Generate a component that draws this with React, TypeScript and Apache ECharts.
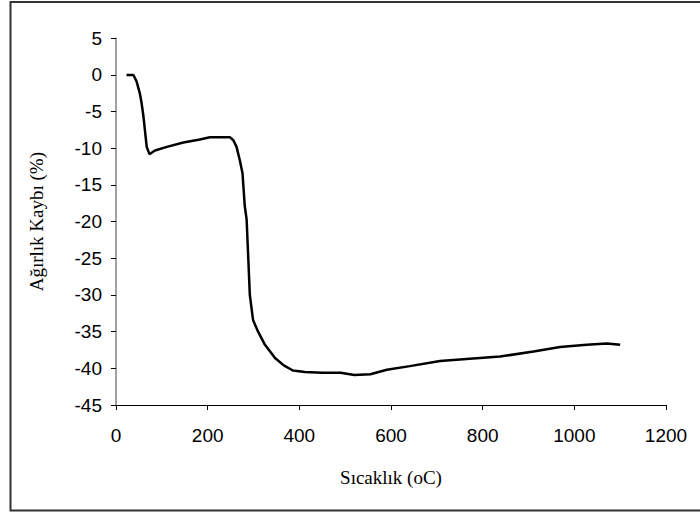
import React, { useEffect, useRef } from "react";
import * as echarts from "echarts";

const temperature = [23, 38, 45, 52, 56, 60, 63, 67, 73, 85, 111, 147, 183, 205, 249, 256, 263, 270, 276, 281, 285, 292, 299, 310, 325, 347, 366, 386, 412, 450, 490, 520, 555, 591, 641, 707, 772, 838, 911, 969, 1027, 1071, 1100];
const weightLoss = [0, 0, -0.9, -2.5, -3.9, -5.7, -7.5, -9.8, -10.8, -10.3, -9.8, -9.2, -8.8, -8.5, -8.5, -8.9, -9.8, -11.6, -13.4, -17.9, -19.7, -30, -33.4, -35, -36.8, -38.6, -39.6, -40.3, -40.5, -40.6, -40.6, -40.9, -40.8, -40.2, -39.7, -39.0, -38.7, -38.4, -37.7, -37.1, -36.8, -36.6, -36.8];
const xTicks = { min: 0, max: 1200, interval: 200 };
const yTicks = { min: -45, max: 5, interval: 5 };

export default function App() {
  const ref = useRef<HTMLDivElement>(null);
  useEffect(() => {
    document.body.style.margin = "0";
    const chart = echarts.init(ref.current!, null, { renderer: "svg" });
    chart.setOption({
      animation: false,
      backgroundColor: "#ffffff",
      graphic: [
        {
          type: "rect",
          shape: { x: 10.5, y: 2, width: 700, height: 508.5 },
          style: { fill: "none", stroke: "#333333", lineWidth: 2 },
          silent: true,
        },
      ],
      grid: { left: 116, top: 38.3, right: 34, bottom: 107 },
      xAxis: {
        type: "value",
        min: xTicks.min,
        max: xTicks.max,
        interval: xTicks.interval,
        name: "Sıcaklık (oC)",
        nameLocation: "middle",
        nameGap: 63,
        nameTextStyle: { fontFamily: "Liberation Serif", fontSize: 19, color: "#000" },
        axisLine: { onZero: false, lineStyle: { color: "#000", width: 1 } },
        axisTick: { length: 5, lineStyle: { color: "#000" } },
        axisLabel: {
          fontFamily: "Liberation Sans",
          fontSize: 19,
          color: "#000",
          margin: 21,
          formatter: (v: number) => String(v),
        },
        splitLine: { show: false },
      },
      yAxis: {
        type: "value",
        min: yTicks.min,
        max: yTicks.max,
        interval: yTicks.interval,
        name: "Ağırlık Kaybı (%)",
        nameLocation: "middle",
        nameGap: 70,
        nameTextStyle: { fontFamily: "Liberation Serif", fontSize: 19, color: "#000" },
        axisLine: { show: true, onZero: false, lineStyle: { color: "#808080", width: 1.5 } },
        axisTick: { show: true, length: 5, lineStyle: { color: "#000" } },
        axisLabel: { fontFamily: "Liberation Sans", fontSize: 19, color: "#000", margin: 14 },
        splitLine: { show: false },
      },
      series: [
        {
          type: "line",
          data: temperature.map((t, i) => [t, weightLoss[i]]),
          showSymbol: false,
          lineStyle: { color: "#000", width: 2.5 },
        },
      ],
    });
    return () => chart.dispose();
  }, []);
  return <div ref={ref} style={{ position: "absolute", left: 0, top: 0, width: 700, height: 512 }} />;
}
